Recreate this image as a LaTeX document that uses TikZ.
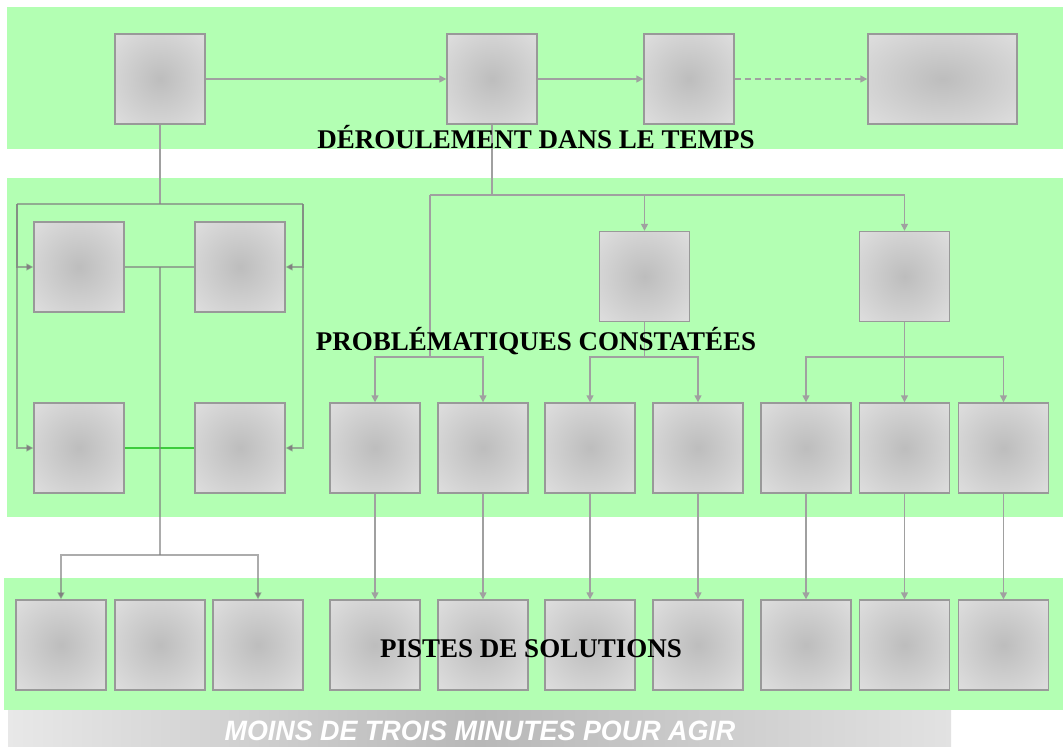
\documentclass[tikz,border=0pt]{standalone}
\usepackage{fontspec}
\setmainfont{Liberation Serif}
\newfontfamily\bannerfont{Liberation Sans}
\usetikzlibrary{arrows.meta}
\definecolor{bandgreen}{HTML}{B3FFB3}
\definecolor{linegray}{HTML}{A0A0A0}
\definecolor{linkgreen}{HTML}{3DCC3D}
\definecolor{boxmid}{HTML}{BDBDBD}
\definecolor{boxring}{HTML}{CBCBCB}
\definecolor{boxlight}{HTML}{DCDCDC}
\definecolor{boxedge}{HTML}{E6E6E6}
\definecolor{boxcorner}{HTML}{EBEBEB}
\definecolor{boxline}{HTML}{999999}
\definecolor{bannerleft}{HTML}{E8E8E8}
\definecolor{bannermid}{HTML}{B8B8B8}
\definecolor{bannerright}{HTML}{E2E2E2}
\pgfdeclareradialshading{boxshade}{\pgfpoint{0bp}{0bp}}{color(0bp)=(boxmid); color(15bp)=(boxring); color(33bp)=(boxlight); color(50bp)=(boxedge); color(71bp)=(boxcorner)}

\begin{document}
\begin{tikzpicture}[x=1pt, y=-1pt,
    box/.style={draw=boxline, line width=1.4pt, shade, shading=boxshade,
      minimum width=90pt, minimum height=90pt, inner sep=0pt},
    link/.style={draw=linegray, line width=1.5pt},
    soft/.style={draw=black!50, draw opacity=0.65, line width=1.5pt},
    arr/.style={-{Triangle[length=7pt,width=7pt]}},
    title/.style={font=\bfseries\fontsize{27}{27}\selectfont, anchor=base, inner sep=0pt}]
  \useasboundingbox (0,0) rectangle (1063,747);

  % bands
  \fill[bandgreen] (7,7) rectangle (1063,149);
  \fill[bandgreen] (7,178) rectangle (1063,517);
  \fill[bandgreen] (4,578) rectangle (1063,710);
  \shade[left color=bannerleft, right color=bannerright, middle color=bannermid]
    (8,710) rectangle (951,747);

  % deroulement
  \node[box] (t1) at (160,79) {};
  \node[box] (t2) at (492,79) {};
  \node[box] (t3) at (689,79) {};
  \node[box, minimum width=149pt] (t4) at (942.5,79) {};

  % problematiques
  \node[box] (g1) at (79,267) {};
  \node[box] (g2) at (240,267) {};
  \node[box] (g3) at (79,448) {};
  \node[box] (g4) at (240,448) {};
  \node[box] (p1) at (644.5,276.5) {};
  \node[box] (p2) at (904.5,276.5) {};
  \node[box] (m1) at (375,448) {};
  \node[box] (m2) at (483,448) {};
  \node[box] (m3) at (590,448) {};
  \node[box] (m4) at (698,448) {};
  \node[box] (m5) at (806,448) {};
  \node[box] (m6) at (904.5,448) {};
  \node[box] (m7) at (1003.5,448) {};

  % pistes
  \node[box] (s1) at (61,645) {};
  \node[box] (s2) at (160,645) {};
  \node[box] (s3) at (258,645) {};
  \node[box] (s4) at (375,645) {};
  \node[box] (s5) at (483,645) {};
  \node[box] (s6) at (590,645) {};
  \node[box] (s7) at (698,645) {};
  \node[box] (s8) at (806,645) {};
  \node[box] (s9) at (904.5,645) {};
  \node[box] (s10) at (1003.5,645) {};

  \coordinate (fl) at (17,204);
  \coordinate (fr) at (303,204);
  \coordinate (jl) at (160,555);
  \coordinate (jm) at (430,195);
  \coordinate (jn) at (430,357);

  \draw[link,arr] (t1) -- (t2);
  \draw[link,arr] (t2) -- (t3);
  \draw[link,arr,dash pattern=on 6pt off 4pt] (t3) -- (t4);

  \draw[link] (t1) -- (t1 |- fl);
  \draw[soft] (fl) -- (fr);
  \draw[soft,arr] (fl) |- (g1);
  \draw[soft,arr] (fl) |- (g3);
  \draw[soft,arr] (fr) |- (g2);
  \draw[soft,arr] (fr) |- (g4);
  \draw[soft] (g1) -- (g2);
  \draw[draw=linkgreen, line width=1.5pt] (g3) -- (g4);
  \draw[soft] (g1 -| t1) -- (jl);
  \draw[soft,arr] (jl) -| (s1);
  \draw[soft,arr] (jl) -| (s3);

  \draw[link] (t2) -- (t2 |- jm);
  \draw[link,arr] (t2 |- jm) -| (p1);
  \draw[link,arr] (jm) -| (p2);
  \draw[link] (jm) -- (jn);
  \draw[link,arr] (jn) -| (m1);
  \draw[link,arr] (jn) -| (m2);
  \draw[link] (p1) -- (p1 |- jn);
  \draw[link,arr] (p1 |- jn) -| (m3);
  \draw[link,arr] (p1 |- jn) -| (m4);
  \draw[link] (p2) -- (p2 |- jn);
  \draw[link,arr] (p2 |- jn) -| (m5);
  \draw[link,arr] (p2) -- (m6);
  \draw[link,arr] (p2 |- jn) -| (m7);

  \draw[link,arr] (m1) -- (s4);
  \draw[link,arr] (m2) -- (s5);
  \draw[link,arr] (m3) -- (s6);
  \draw[link,arr] (m4) -- (s7);
  \draw[link,arr] (m5) -- (s8);
  \draw[link,arr] (m6) -- (s9);
  \draw[link,arr] (m7) -- (s10);

  % titres
  \node[title] (deroul) at (536,148) {DÉROULEMENT DANS LE TEMPS};
  \node[title] (problem) at (536,350) {PROBLÉMATIQUES CONSTATÉES};
  \node[title] (pistes) at (531,657) {PISTES DE SOLUTIONS};
  \node[font=\bannerfont\bfseries\itshape\fontsize{28}{28}\selectfont, text=white,
    anchor=base, inner sep=0pt, xscale=0.96] (delai) at (480,740) {MOINS DE TROIS MINUTES POUR AGIR};
\end{tikzpicture}
\end{document}
